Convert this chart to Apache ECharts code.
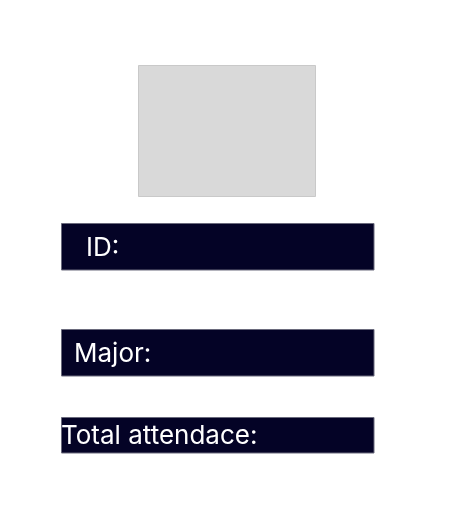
<!DOCTYPE html>
<html>
<head>
<meta charset="utf-8">
<script src="https://cdn.jsdelivr.net/npm/echarts@6/dist/echarts.min.js"></script>
<style>html,body{margin:0;padding:0;background:#fff}#c{width:455px;height:526px}</style>
</head>
<body>
<div id="c"></div>
<script>
var fieldLabels = ['ID:', 'Major:', 'Total attendace:'];

var chart = echarts.init(document.getElementById('c'), null, {renderer: 'canvas'});
var barBoxes = [
  {y: 223.5, h: 46.5, tx: 86},
  {y: 329.5, h: 46.5, tx: 74},
  {y: 417.5, h: 35.5, tx: 61}
];
var graphics = [{
  type: 'rect',
  shape: {x: 138.5, y: 65.5, width: 177, height: 131},
  style: {fill: '#d9d9d9', stroke: '#c9c9c9', lineWidth: 1}
}];
fieldLabels.forEach(function (lab, i) {
  var b = barBoxes[i];
  graphics.push({
    type: 'rect',
    shape: {x: 61.5, y: b.y, width: 312.5, height: b.h},
    style: {fill: '#040326', stroke: '#6a6a7c', lineWidth: 1}
  });
  graphics.push({
    type: 'text',
    x: b.tx, y: b.y + b.h / 2 + 1,
    style: {text: lab, fill: '#ffffff', font: '400 26px Inter', textVerticalAlign: 'middle', verticalAlign: 'middle'}
  });
});
chart.setOption({
  animation: false,
  graphic: graphics
});
</script>
</body>
</html>
